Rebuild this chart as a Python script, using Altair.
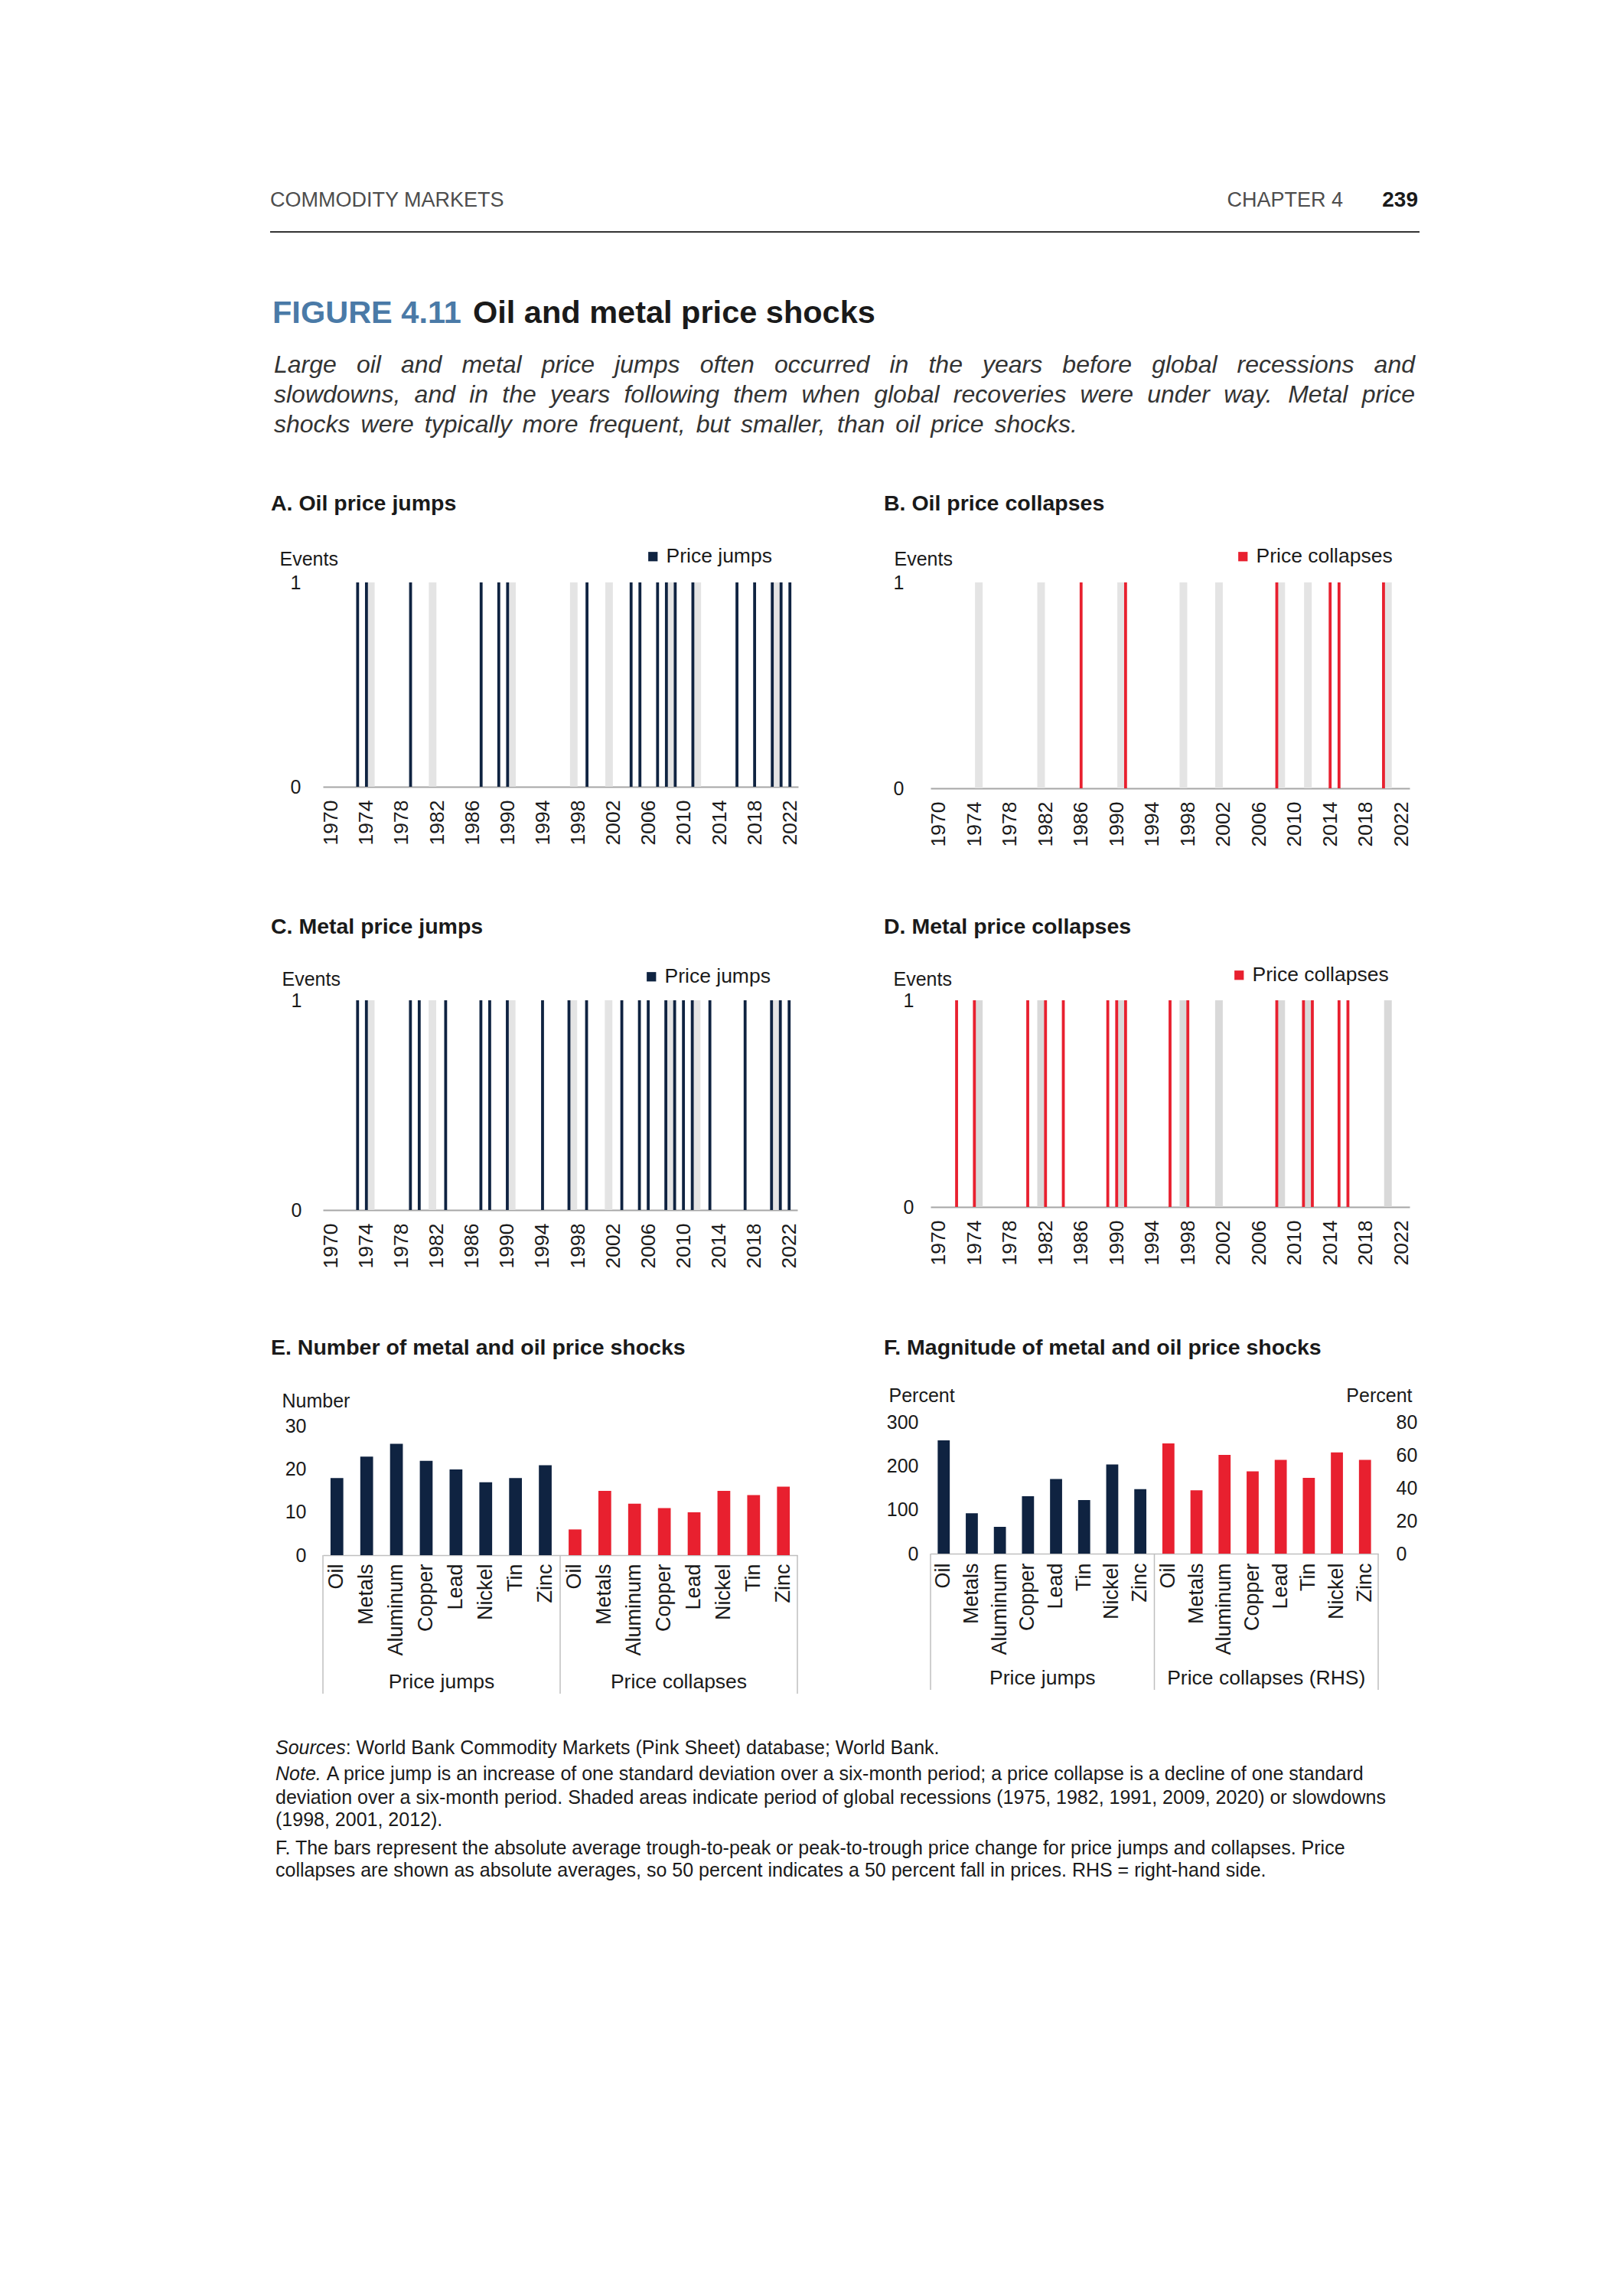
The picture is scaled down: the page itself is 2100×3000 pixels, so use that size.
import altair as alt
import pandas as pd

FONT = "Liberation Sans"
NAVY = "#0f2341"
RED = "#e8202f"
TXT = "#1a1a1a"
SEP = "#bfbfbf"

# ---------------- data ----------------
tick_years = list(range(1970, 2023, 4))
shade_mid = [1974.5, 1981.5, 1990.5, 1997.5, 2001.5, 2008.5, 2011.5, 2020.5]

oil_jump_years = [1973, 1974, 1979, 1987, 1989, 1990, 1999, 2004, 2005, 2007, 2008,
                  2009, 2011, 2016, 2018, 2020, 2021, 2022]
oil_collapse_years = [1986, 1991, 2008, 2014, 2015, 2020]
metal_jump_years = [1973, 1974, 1979, 1980, 1983, 1987, 1988, 1990, 1994, 1997, 1999,
                    2003, 2005, 2006, 2008, 2009, 2010, 2011, 2013, 2017, 2020, 2021, 2022]
metal_collapse_years = [1972, 1974, 1980, 1982, 1984, 1989, 1990, 1991, 1996, 1998,
                        2008, 2011, 2012, 2015, 2016]

e_cats = ["Oil", "Metals", "Aluminum", "Copper", "Lead", "Nickel", "Tin", "Zinc"]
e_jumps = [18, 23, 26, 22, 20, 17, 18, 21]
e_collapses = [6, 15, 12, 11, 10, 15, 14, 16]

f_cats = ["Oil", "Metals", "Aluminum", "Copper", "Lead", "Tin", "Nickel", "Zinc"]
f_jumps = [258, 92, 61, 131, 170, 122, 203, 147]
f_collapses = [67, 38.5, 60, 50, 57, 46, 61.5, 57]

subtitle_lines = [
    "Large oil and metal price jumps often occurred in the years before global recessions and",
    "slowdowns, and in the years following them when global recoveries were under way. Metal price",
    "shocks were typically more frequent, but smaller, than oil price shocks.",
]
note_lines = [
    "deviation over a six-month period. Shaded areas indicate period of global recessions (1975, 1982, 1991, 2009, 2020) or slowdowns",
    "(1998, 2001, 2012).",
    "F. The bars represent the absolute average trough-to-peak or peak-to-trough price change for price jumps and collapses. Price",
    "collapses are shown as absolute averages, so 50 percent indicates a 50 percent fall in prices. RHS = right-hand side.",
]

# ---------------- text width helper (Arial / Liberation Sans metrics) ----------------
AW = {}
for ch, w in zip("abcdefghijklmnopqrstuvwxyz",
                 [556, 556, 500, 556, 556, 278, 556, 556, 222, 222, 500, 222, 833, 556, 556, 556,
                  556, 333, 500, 278, 556, 500, 722, 500, 500, 500]):
    AW[ch] = w
for ch, w in zip("ABCDEFGHIJKLMNOPQRSTUVWXYZ",
                 [667, 667, 722, 722, 667, 611, 778, 722, 278, 500, 667, 556, 833, 722, 778, 667,
                  778, 722, 667, 611, 722, 667, 944, 667, 667, 611]):
    AW[ch] = w
for d in "0123456789":
    AW[d] = 556
AW.update({" ": 278, ",": 278, ".": 278, ";": 278, ":": 278, "(": 333, ")": 333, "-": 333, "=": 584})


def wwidth(s, fs):
    return sum(AW.get(c, 556) for c in s) * fs / 1000.0


def justify(line, left, right, y, fs):
    words = line.split(" ")
    ws = [wwidth(w, fs) for w in words]
    gap = (right - left - sum(ws)) / (len(words) - 1)
    rows, x = [], left
    for w, wd in zip(words, ws):
        rows.append((x, y, w))
        x += wd + gap
    return rows


def tlayer(rows, align="left", **kw):
    df = pd.DataFrame(rows, columns=["x", "y", "t"])
    return alt.Chart(df).mark_text(align=align, baseline="alphabetic", **kw).encode(
        x=alt.X("x:Q", scale=None, axis=None),
        y=alt.Y("y:Q", scale=None, axis=None),
        text="t:N",
    )


def vtext(text, x, y, **kw):
    return alt.Chart(pd.DataFrame({"t": [text]})).mark_text(**kw).encode(
        text="t:N", x=alt.value(x), y=alt.value(y))


def vrule(x, y1, y2):
    return alt.Chart(pd.DataFrame({"a": [0]})).mark_rule(color=SEP, strokeWidth=1.5).encode(
        x=alt.value(x), y=alt.value(y1), y2=alt.value(y2))


# ---------------- header (page text) ----------------
anchor = alt.Chart(pd.DataFrame({"x": [-414], "x2": [-412], "y": [-475], "y2": [-473]})).mark_rect(
    opacity=0).encode(x=alt.X("x:Q", scale=None, axis=None), x2="x2:Q",
                      y=alt.Y("y:Q", scale=None, axis=None), y2="y2:Q")
head_rule = alt.Chart(pd.DataFrame({"x": [-69], "x2": [1433], "y": [-180]})).mark_rule(
    color="#333333", strokeWidth=2).encode(x=alt.X("x:Q", scale=None, axis=None), x2="x2:Q",
                                          y=alt.Y("y:Q", scale=None, axis=None))
sub_rows = []
sub_rows += justify(subtitle_lines[0], -64, 1427, 4, 32)
sub_rows += justify(subtitle_lines[1], -64, 1427, 43, 32)
sub_rows += justify(subtitle_lines[2], -64, 986, 82, 32)

header_left = alt.layer(
    anchor,
    head_rule,
    tlayer([(-69, -213, "COMMODITY MARKETS")], fontSize=27, color="#4d4d4d"),
    tlayer([(-66, -61, "FIGURE 4.11")], fontSize=41.5, fontWeight="bold", color="#4a7aa7"),
    tlayer([(196, -61, "Oil and metal price shocks")], fontSize=41.5, fontWeight="bold", color=TXT),
    tlayer(sub_rows, fontSize=32, fontStyle="italic", color="#333333"),
).properties(width=1, height=1)

header_right = alt.layer(
    tlayer([(539, -213, "CHAPTER 4")], align="right", fontSize=27, color="#4d4d4d"),
    tlayer([(637, -213, "239")], align="right", fontSize=28, fontWeight="bold", color=TXT),
).properties(width=1, height=1)


# ---------------- event panels ----------------
def event_panel(years, series, color, w, h, title, t_dx, t_dy, ev_x, ev_y, leg_x, leg_y,
                lab_pad, shade_color):
    ev = pd.DataFrame({"year": years, "v": [1] * len(years), "series": [series] * len(years)})
    sh = pd.DataFrame({"start": [m - 0.43 for m in shade_mid], "end": [m + 0.43 for m in shade_mid],
                       "hi": [1] * len(shade_mid), "lo": [0] * len(shade_mid)})
    xscale = alt.Scale(domain=[1969.5, 2022.5], nice=False, zero=False)
    yscale = alt.Scale(domain=[0, 1], nice=False)
    xaxis = alt.Axis(values=tick_years, format="d", labelAngle=270, labelFontSize=26.5,
                     labelPadding=17, ticks=False, tickSize=0, domainColor="#a6a6a6", domainWidth=2,
                     grid=False, title=None, labelColor=TXT, labelFlush=False, labelOverlap=False)
    yaxis = alt.Axis(values=[0, 1], format="d", labelFontSize=25, labelPadding=lab_pad,
                     domain=False, ticks=False, grid=False, labelColor=TXT,
                     title="Events", titleAngle=0, titleAlign="left", titleBaseline="middle",
                     titleX=ev_x, titleY=ev_y, titleFontSize=25, titleFontWeight="normal",
                     titleColor=TXT)
    shade = alt.Chart(sh).mark_rect(color=shade_color).encode(
        x=alt.X("start:Q", scale=xscale, axis=xaxis), x2="end:Q",
        y=alt.Y("hi:Q", scale=yscale, axis=yaxis), y2="lo:Q")
    bars = alt.Chart(ev).mark_bar(size=3.8).encode(
        x=alt.X("year:Q", scale=xscale, axis=xaxis),
        y=alt.Y("v:Q", scale=yscale, axis=yaxis),
        color=alt.Color("series:N", scale=alt.Scale(domain=[series], range=[color]),
                        legend=alt.Legend(orient="none", legendX=leg_x, legendY=leg_y, title=None,
                                          symbolType="square", symbolSize=150, labelFontSize=26.5,
                                          labelColor=TXT, padding=0, labelOffset=4,
                                          labelLimit=400, symbolStrokeWidth=0)))
    ttl = vtext(title, t_dx, t_dy, align="left", baseline="alphabetic", fontSize=28.5,
                fontWeight="bold", color=TXT)
    return alt.layer(shade, bars, ttl).properties(width=w, height=h)


panel_a = event_panel(oil_jump_years, "Price jumps", NAVY, 621, 267, "A. Oil price jumps",
                      -68, -94, -57, -31, 418, -47, 29, "#e4e4e4")
panel_b = event_panel(oil_collapse_years, "Price collapses", RED, 626, 269, "B. Oil price collapses",
                      -61, -94, -48, -31, 395, -47, 35, "#e4e4e4")
panel_c = event_panel(metal_jump_years, "Price jumps", NAVY, 620, 274, "C. Metal price jumps",
                      -68, -87, -54, -28, 416, -44, 28, "#e4e4e4")
panel_d = event_panel(metal_collapse_years, "Price collapses", RED, 626, 270,
                      "D. Metal price collapses", -61, -87, -49, -28, 390, -46, 22, "#d9d9d9")


# ---------------- panel E ----------------
def cat_axis(pad):
    return alt.Axis(labelExpr="substring(datum.label, 2)", labelAngle=270, labelFontSize=27,
                    labelPadding=pad, ticks=False, tickSize=0, domainColor=SEP, domainWidth=1.5,
                    title=None, labelColor=TXT, grid=False)


keys_e = ["J:" + c for c in e_cats] + ["C:" + c for c in e_cats]
df_e = pd.DataFrame({"key": keys_e, "value": e_jumps + e_collapses,
                     "group": ["Price jumps"] * 8 + ["Price collapses"] * 8})
EW, EH = 620, 174
bars_e = alt.Chart(df_e).mark_bar().encode(
    x=alt.X("key:N", scale=alt.Scale(domain=keys_e, paddingInner=0.57, paddingOuter=0.255),
            axis=cat_axis(11)),
    y=alt.Y("value:Q", scale=alt.Scale(domain=[0, 31.07], nice=False),
            axis=alt.Axis(values=[0, 10, 20, 30], labelFontSize=25, labelPadding=22, domain=False,
                          ticks=False, grid=False, labelColor=TXT, title="Number", titleAngle=0,
                          titleAlign="left", titleBaseline="middle", titleX=-54, titleY=-28,
                          titleFontSize=25, titleFontWeight="normal", titleColor=TXT)),
    color=alt.Color("group:N", scale=alt.Scale(domain=["Price jumps", "Price collapses"],
                                               range=[NAVY, RED]), legend=None),
)
panel_e = alt.layer(
    bars_e,
    vrule(0, EH, EH + 181), vrule(EW / 2, EH, EH + 181), vrule(EW, EH, EH + 181),
    vtext("Price jumps", EW / 4, EH + 166, align="center", baseline="middle", fontSize=26.5,
          color=TXT),
    vtext("Price collapses", 3 * EW / 4, EH + 166, align="center", baseline="middle",
          fontSize=26.5, color=TXT),
    vtext("E. Number of metal and oil price shocks", -68, -88, align="left", baseline="alphabetic",
          fontSize=28.5, fontWeight="bold", color=TXT),
).properties(width=EW, height=EH)

# ---------------- panel F ----------------
keys_fj = ["J:" + c for c in f_cats]
keys_fc = ["C:" + c for c in f_cats]
keys_f = keys_fj + keys_fc
df_fj = pd.DataFrame({"key": keys_fj, "value": f_jumps})
df_fc = pd.DataFrame({"key": keys_fc, "value": f_collapses})
FW, FH = 585, 172
xf = alt.X("key:N", scale=alt.Scale(domain=keys_f, paddingInner=0.57, paddingOuter=0.255),
           axis=cat_axis(12))
bars_fj = alt.Chart(df_fj).mark_bar(color=NAVY).encode(
    x=xf,
    y=alt.Y("value:Q", scale=alt.Scale(domain=[0, 300], nice=False),
            axis=alt.Axis(values=[0, 100, 200, 300], labelFontSize=25, labelPadding=16,
                          domain=False, ticks=False, grid=False, labelColor=TXT, title="Percent",
                          titleAngle=0, titleAlign="left", titleBaseline="middle", titleX=-55,
                          titleY=-35, titleFontSize=25, titleFontWeight="normal", titleColor=TXT)),
)
bars_fc = alt.Chart(df_fc).mark_bar(color=RED).encode(
    x=xf,
    y=alt.Y("value:Q", scale=alt.Scale(domain=[0, 80], nice=False),
            axis=alt.Axis(orient="right", values=[0, 20, 40, 60, 80], labelFontSize=25,
                          labelPadding=23, domain=False, ticks=False, grid=False, labelColor=TXT,
                          title="Percent", titleAngle=0, titleAlign="right", titleBaseline="middle",
                          titleX=44, titleY=-35, titleFontSize=25, titleFontWeight="normal",
                          titleColor=TXT)),
)
panel_f = alt.layer(
    bars_fj, bars_fc,
    vrule(0, FH, FH + 178), vrule(FW / 2, FH, FH + 178), vrule(FW, FH, FH + 178),
    vtext("Price jumps", FW / 4, FH + 163, align="center", baseline="middle", fontSize=26.5,
          color=TXT),
    vtext("Price collapses (RHS)", 3 * FW / 4, FH + 163, align="center", baseline="middle",
          fontSize=26.5, color=TXT),
    vtext("F. Magnitude of metal and oil price shocks", -61, -88, align="left",
          baseline="alphabetic", fontSize=28.5, fontWeight="bold", color=TXT),
).resolve_scale(y="independent").properties(width=FW, height=FH)

# ---------------- notes ----------------
NFS = 25
nx = -62
notes = alt.layer(
    tlayer([(nx, -17, "Sources"), (nx, 17, "Note.")], fontSize=NFS, fontStyle="italic", color=TXT),
    tlayer([
        (nx + wwidth("Sources", NFS), -17,
         ": World Bank Commodity Markets (Pink Sheet) database; World Bank."),
        (nx + wwidth("Note. ", NFS), 17,
         "A price jump is an increase of one standard deviation over a six-month period; a price collapse is a decline of one standard"),
        (nx, 48, note_lines[0]),
        (nx, 77, note_lines[1]),
        (nx, 114, note_lines[2]),
        (nx, 143, note_lines[3]),
    ], fontSize=NFS, color=TXT),
).properties(width=1, height=1)

chart = alt.concat(
    header_left, header_right,
    panel_a, panel_b,
    panel_c, panel_d,
    panel_e, panel_f,
    notes,
    columns=2,
    spacing={"row": 277, "column": 173},
    bounds="flush",
    align="each",
    padding=0,
).resolve_scale(color="independent").resolve_legend(color="independent").configure(
    font=FONT, background="white"
).configure_view(stroke=None)

chart.save("out.html", embed_options={"renderer": "svg", "actions": False})
